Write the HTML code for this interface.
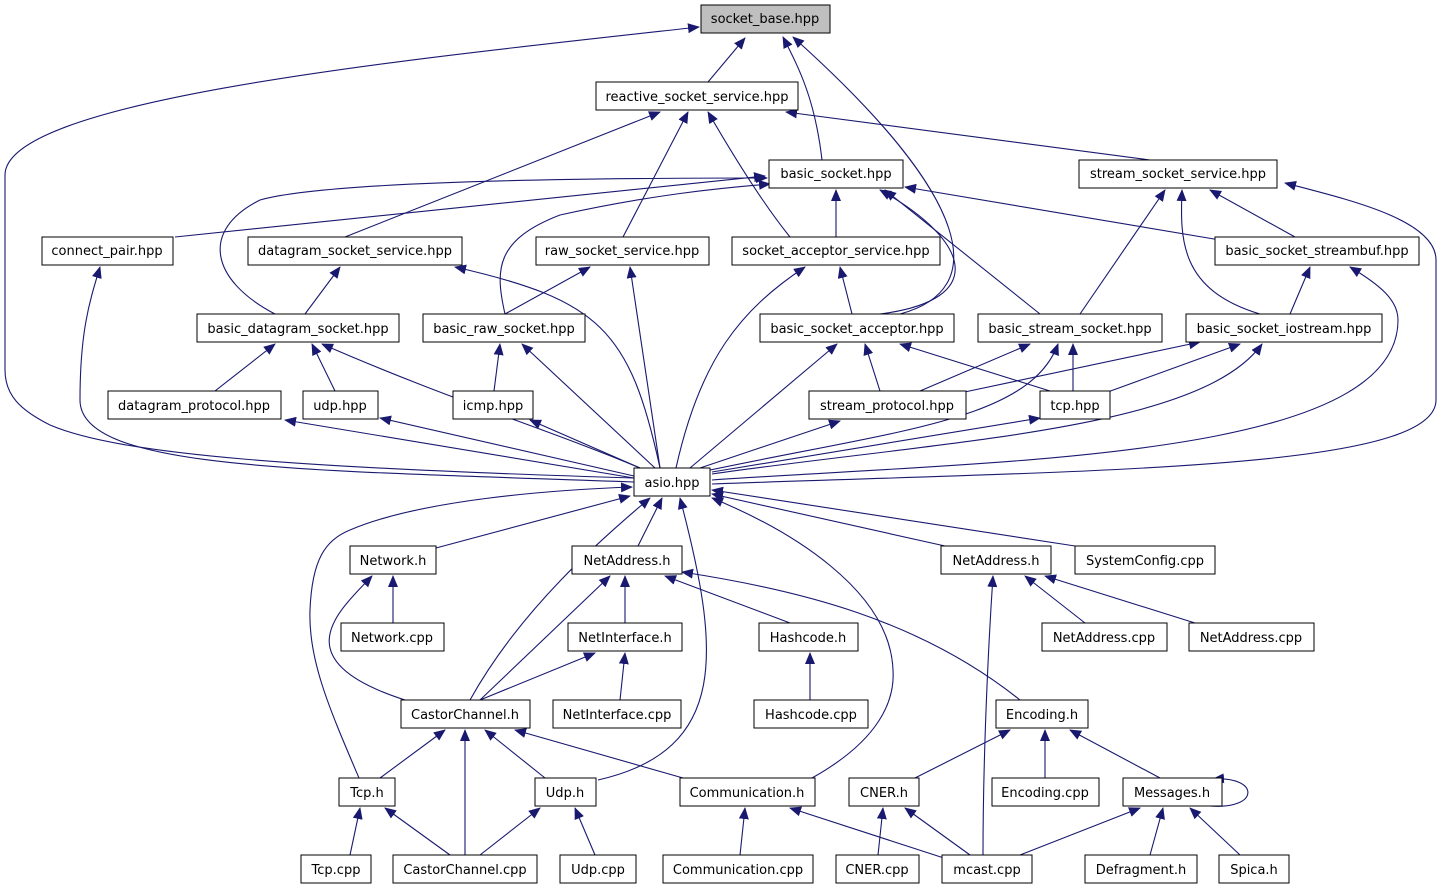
<!DOCTYPE html>
<html><head><meta charset="utf-8"><style>
html,body{margin:0;padding:0;background:#fff;width:1444px;height:891px;overflow:hidden}
text{font-family:"DejaVu Sans","Liberation Sans",sans-serif;font-size:13px;fill:#000}
</style></head><body>
<svg width="1444" height="891" viewBox="0 0 1444 891" xmlns="http://www.w3.org/2000/svg">
<defs><marker id="a" markerWidth="12" markerHeight="10" refX="11" refY="5" orient="auto" markerUnits="userSpaceOnUse"><path d="M0,0 L12,5 L0,10 Z" fill="#191970"/></marker></defs>
<g fill="none" stroke="#191970" stroke-width="1.1" marker-end="url(#a)">
<path d="M634,478 C300,468 120,455 50,425 C20,410 5,395 5,370 L5,175 C5,100 400,60 699,27"/>
<path d="M708,82 L745,38"/>
<path d="M822,160 C815,100 800,70 783,37"/>
<path d="M900,314 C990,290 975,200 793,37"/>
<path d="M1150,160 L786,112"/>
<path d="M345,237 L660,112"/>
<path d="M623,237 L688,112"/>
<path d="M790,237 C760,200 730,150 708,112"/>
<path d="M175,237 L765,176"/>
<path d="M275,314 C210,280 200,230 260,200 C330,180 600,178 767,178"/>
<path d="M505,314 C495,270 495,240 560,215 C650,195 720,188 770,184"/>
<path d="M836,237 L836,190"/>
<path d="M880,314 C990,300 970,240 880,190"/>
<path d="M1040,314 L885,190"/>
<path d="M1220,240 L905,187"/>
<path d="M852,314 L840,267"/>
<path d="M305,314 L340,267"/>
<path d="M505,314 L590,267"/>
<path d="M1080,314 L1165,190"/>
<path d="M1260,314 C1180,290 1180,240 1182,190"/>
<path d="M1295,237 L1210,190"/>
<path d="M1290,314 L1310,267"/>
<path d="M215,391 L275,344"/>
<path d="M335,391 L312,344"/>
<path d="M494,391 L500,344"/>
<path d="M880,391 L865,344"/>
<path d="M1050,391 L900,344"/>
<path d="M920,391 L1030,344"/>
<path d="M1073,391 L1073,344"/>
<path d="M960,393 L1200,342"/>
<path d="M1105,393 L1240,344"/>
<path d="M660,468 C630,330 600,300 455,267"/>
<path d="M660,468 L630,267"/>
<path d="M676,468 C700,360 740,310 805,267"/>
<path d="M640,468 C550,430 450,400 322,344"/>
<path d="M655,468 L522,344"/>
<path d="M690,468 L837,344"/>
<path d="M710,470 C900,430 1030,420 1058,344"/>
<path d="M712,474 C950,440 1200,430 1262,344"/>
<path d="M712,480 C1000,460 1398,460 1398,320 C1398,300 1380,285 1350,267"/>
<path d="M712,484 C1100,470 1436,470 1436,400 L1436,260 C1436,220 1350,200 1285,183"/>
<path d="M634,482 C300,470 80,470 80,400 C80,330 90,300 100,267"/>
<path d="M634,478 L285,420"/>
<path d="M634,476 L380,418"/>
<path d="M640,468 L530,420"/>
<path d="M700,468 L840,421"/>
<path d="M712,472 L1040,418"/>
<path d="M436,548 L630,496"/>
<path d="M638,546 L662,498"/>
<path d="M470,700 C520,610 600,540 650,498"/>
<path d="M359,778 C330,710 308,660 310,610 C312,560 325,540 350,530 C420,500 550,490 632,487"/>
<path d="M598,780 C730,750 720,650 680,498"/>
<path d="M812,778 C880,740 895,700 893,670 C890,590 790,530 712,498"/>
<path d="M945,546 L712,494"/>
<path d="M1075,546 L712,490"/>
<path d="M393,623 L393,576"/>
<path d="M405,700 C280,660 340,610 372,576"/>
<path d="M625,623 L625,576"/>
<path d="M790,623 L665,576"/>
<path d="M1020,700 C920,620 800,590 682,572"/>
<path d="M480,700 L610,576"/>
<path d="M480,700 L595,653"/>
<path d="M620,700 L625,653"/>
<path d="M810,700 L810,653"/>
<path d="M1085,623 L1025,576"/>
<path d="M1195,623 L1045,576"/>
<path d="M983,855 C983,760 988,650 993,576"/>
<path d="M380,778 L445,730"/>
<path d="M465,855 L465,730"/>
<path d="M545,778 L485,730"/>
<path d="M690,780 L515,730"/>
<path d="M350,855 L360,808"/>
<path d="M450,855 L385,808"/>
<path d="M480,855 L540,808"/>
<path d="M595,855 L575,808"/>
<path d="M740,855 L745,808"/>
<path d="M950,860 L790,808"/>
<path d="M915,778 L1010,730"/>
<path d="M1045,778 L1045,730"/>
<path d="M1160,778 L1070,730"/>
<path d="M878,855 L883,808"/>
<path d="M970,855 L905,808"/>
<path d="M1020,855 L1140,808"/>
<path d="M1150,855 L1163,808"/>
<path d="M1240,855 L1190,808"/>
<path d="M1210,806 C1260,810 1260,776 1213,779"/>
</g>
<g stroke="#000" stroke-width="1" fill="#fff">
<rect x="701" y="5" width="129" height="28" fill="#bfbfbf"/>
<rect x="596" y="82" width="202" height="28"/>
<rect x="769" y="160" width="134" height="28"/>
<rect x="1079" y="160" width="198" height="28"/>
<rect x="42" y="237" width="131" height="28"/>
<rect x="248" y="237" width="214" height="28"/>
<rect x="536" y="237" width="173" height="28"/>
<rect x="732" y="237" width="208" height="28"/>
<rect x="1215" y="237" width="204" height="28"/>
<rect x="197" y="314" width="202" height="28"/>
<rect x="423" y="314" width="162" height="28"/>
<rect x="760" y="314" width="194" height="28"/>
<rect x="978" y="314" width="184" height="28"/>
<rect x="1186" y="314" width="196" height="28"/>
<rect x="108" y="391" width="173" height="28"/>
<rect x="303" y="391" width="75" height="28"/>
<rect x="453" y="391" width="80" height="28"/>
<rect x="809" y="391" width="157" height="28"/>
<rect x="1040" y="391" width="70" height="28"/>
<rect x="634" y="468" width="76" height="28"/>
<rect x="350" y="546" width="86" height="28"/>
<rect x="572" y="546" width="110" height="28"/>
<rect x="941" y="546" width="110" height="28"/>
<rect x="1075" y="546" width="140" height="28"/>
<rect x="341" y="623" width="103" height="28"/>
<rect x="568" y="623" width="114" height="28"/>
<rect x="759" y="623" width="99" height="28"/>
<rect x="1042" y="623" width="125" height="28"/>
<rect x="1189" y="623" width="125" height="28"/>
<rect x="401" y="700" width="129" height="28"/>
<rect x="553" y="700" width="128" height="28"/>
<rect x="754" y="700" width="114" height="28"/>
<rect x="996" y="700" width="92" height="28"/>
<rect x="339" y="778" width="56" height="28"/>
<rect x="535" y="778" width="61" height="28"/>
<rect x="680" y="778" width="135" height="28"/>
<rect x="849" y="778" width="70" height="28"/>
<rect x="992" y="778" width="107" height="28"/>
<rect x="1123" y="778" width="99" height="28"/>
<rect x="301" y="855" width="70" height="28"/>
<rect x="393" y="855" width="144" height="28"/>
<rect x="560" y="855" width="76" height="28"/>
<rect x="663" y="855" width="150" height="28"/>
<rect x="836" y="855" width="83" height="28"/>
<rect x="942" y="855" width="90" height="28"/>
<rect x="1085" y="855" width="112" height="28"/>
<rect x="1219" y="855" width="70" height="28"/>
</g>
<g text-anchor="middle">
<text x="765" y="23">socket_base.hpp</text>
<text x="697" y="101">reactive_socket_service.hpp</text>
<text x="836" y="178">basic_socket.hpp</text>
<text x="1178" y="178">stream_socket_service.hpp</text>
<text x="107" y="255">connect_pair.hpp</text>
<text x="355" y="255">datagram_socket_service.hpp</text>
<text x="622" y="255">raw_socket_service.hpp</text>
<text x="836" y="255">socket_acceptor_service.hpp</text>
<text x="1317" y="255">basic_socket_streambuf.hpp</text>
<text x="298" y="333">basic_datagram_socket.hpp</text>
<text x="504" y="333">basic_raw_socket.hpp</text>
<text x="857" y="333">basic_socket_acceptor.hpp</text>
<text x="1070" y="333">basic_stream_socket.hpp</text>
<text x="1284" y="333">basic_socket_iostream.hpp</text>
<text x="194" y="410">datagram_protocol.hpp</text>
<text x="340" y="410">udp.hpp</text>
<text x="493" y="410">icmp.hpp</text>
<text x="887" y="410">stream_protocol.hpp</text>
<text x="1075" y="410">tcp.hpp</text>
<text x="672" y="487">asio.hpp</text>
<text x="393" y="565">Network.h</text>
<text x="627" y="565">NetAddress.h</text>
<text x="996" y="565">NetAddress.h</text>
<text x="1145" y="565">SystemConfig.cpp</text>
<text x="392" y="642">Network.cpp</text>
<text x="625" y="642">NetInterface.h</text>
<text x="808" y="642">Hashcode.h</text>
<text x="1104" y="642">NetAddress.cpp</text>
<text x="1251" y="642">NetAddress.cpp</text>
<text x="465" y="719">CastorChannel.h</text>
<text x="617" y="719">NetInterface.cpp</text>
<text x="811" y="719">Hashcode.cpp</text>
<text x="1042" y="719">Encoding.h</text>
<text x="367" y="797">Tcp.h</text>
<text x="565" y="797">Udp.h</text>
<text x="747" y="797">Communication.h</text>
<text x="884" y="797">CNER.h</text>
<text x="1045" y="797">Encoding.cpp</text>
<text x="1172" y="797">Messages.h</text>
<text x="336" y="874">Tcp.cpp</text>
<text x="465" y="874">CastorChannel.cpp</text>
<text x="598" y="874">Udp.cpp</text>
<text x="738" y="874">Communication.cpp</text>
<text x="877" y="874">CNER.cpp</text>
<text x="987" y="874">mcast.cpp</text>
<text x="1141" y="874">Defragment.h</text>
<text x="1254" y="874">Spica.h</text>
</g>
</svg>
</body></html>
